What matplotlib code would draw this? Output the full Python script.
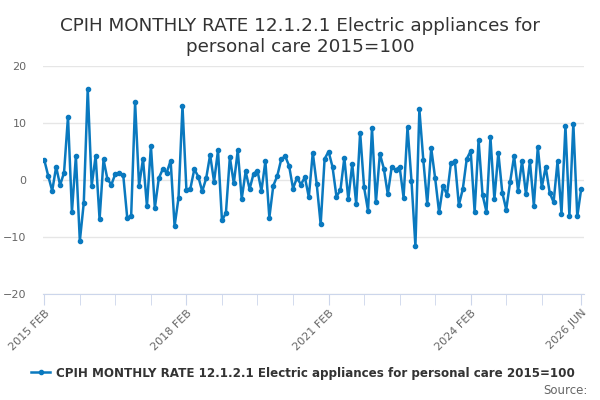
import matplotlib
matplotlib.use("Agg")
import matplotlib.pyplot as plt

# monthly rate, 2015 FEB .. 2026 JUN
start_label = "2015 FEB"
values = [
    3.5, 0.7, -1.9, 2.3, -0.9, 1.3, 11.1, -5.6, 4.2, -10.7,
    -4.0, 16.0, -1.0, 4.2, -6.9, 3.6, 0.1, -0.8, 1.1, 1.2,
    0.8, -6.6, -6.3, 13.6, -1.0, 3.7, -4.6, 6.0, -4.9, 0.3,
    1.9, 1.3, 3.4, -8.1, -3.1, 13.0, -1.8, -1.5, 1.9, 0.6,
    -2.0, 0.3, 4.4, -0.3, 5.2, -7.1, -5.8, 4.0, -0.6, 5.2,
    -3.3, 1.5, -1.6, 1.1, 1.6, -1.9, 3.3, -6.6, -1.0, 0.7,
    3.6, 4.2, 2.5, -1.5, 0.4, -0.8, 0.5, -3.0, 4.8, -0.7,
    -7.8, 3.7, 5.0, 2.3, -2.9, -1.8, 3.9, -3.4, 2.8, -4.2,
    8.3, -1.3, -5.4, 9.1, -3.9, 4.6, 2.0, -2.5, 2.3, 1.8,
    2.3, -3.1, 9.3, -0.1, -11.6, 12.4, 3.5, -4.2, 5.6, 0.3,
    -5.7, -1.0, -2.6, 3.0, 3.3, -4.4, -1.6, 3.7, 5.1, -5.6,
    7.0, -2.6, -5.6, 7.5, -3.4, 4.8, -2.2, -5.2, -0.3, 4.2,
    -1.9, 3.3, -2.5, 3.3, -4.5, 5.8, -1.3, 2.3, -2.2, -3.9,
    3.3, -5.9, 9.5, -6.3, 9.9, -6.4, -1.5,
]
tick_pos = [0, 36, 72, 108, 136]
tick_labels = ["2015 FEB", "2018 FEB", "2021 FEB", "2024 FEB", "2026 JUN"]
series_name = "CPIH MONTHLY RATE 12.1.2.1 Electric appliances for personal care 2015=100"
title = "CPIH MONTHLY RATE 12.1.2.1 Electric appliances for\npersonal care 2015=100"

blue = "#0a79bf"
axis_col = "#ccd6eb"
text_col = "#666666"

fig = plt.figure(figsize=(6, 4), dpi=100)
ax = fig.add_axes([43 / 600, 1 - 294 / 400, (584 - 43) / 600, (294 - 66) / 400])

x = list(range(len(values)))
ax.plot(x, values, color=blue, lw=1.8, marker="o", ms=3.0, label=series_name, zorder=3)

ax.set_ylim(-20, 20)
ax.set_xlim(-0.33, 136.7)
ax.set_yticks([-20, -10, 0, 10, 20])
ax.grid(axis="y", color="#e6e6e6", lw=1)
ax.set_axisbelow(True)

minor = list(range(0, 127, 9)) + [136]
ax.set_xticks(minor, minor=True)
ax.set_xticks(tick_pos)
ax.set_xticklabels(tick_labels, rotation=45, ha="right", rotation_mode="anchor")
ax.tick_params(axis="x", which="both", length=8, color=axis_col, labelsize=8, labelcolor=text_col, pad=2)
ax.tick_params(axis="y", length=0, labelsize=8, labelcolor=text_col, pad=12)

for s in ["top", "right", "left"]:
    ax.spines[s].set_visible(False)
ax.spines["bottom"].set_color(axis_col)

fig.text(0.5, 0.958, title, ha="center", va="top", fontsize=13.2, color="#333333", linespacing=1.25)

leg = fig.legend(loc="center", bbox_to_anchor=(0.505, 1 - 373 / 400), frameon=False,
                 prop={"size": 8.6, "weight": "bold"}, handlelength=1.6, handletextpad=0.5)
for t in leg.get_texts():
    t.set_color("#333333")

fig.text(588 / 600, 1 - 390 / 400, "Source:", ha="right", va="center", fontsize=8.5, color=text_col)

fig.savefig("out.png", dpi=100)
